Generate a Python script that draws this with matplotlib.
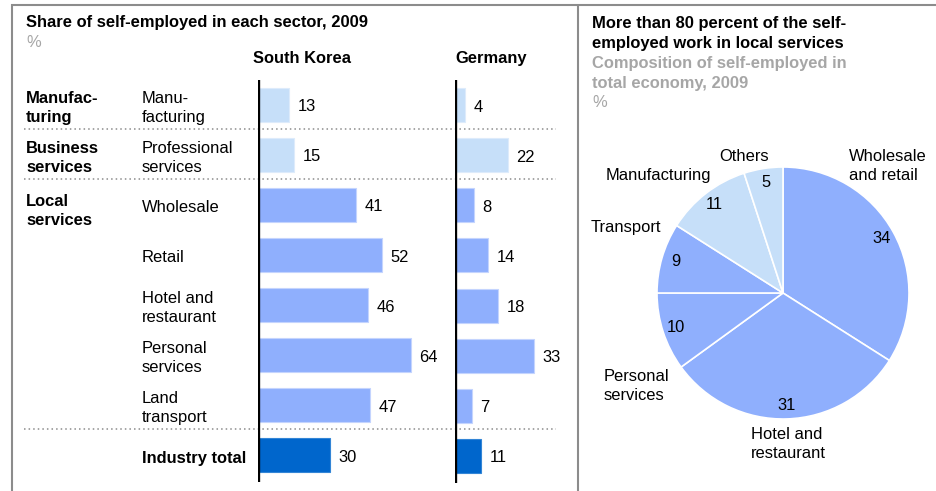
import matplotlib
matplotlib.use("Agg")
import matplotlib.pyplot as plt
import matplotlib.transforms as mtransforms

plt.rcParams['font.family'] = ['Liberation Sans', 'DejaVu Sans']

# bar chart data
sectors = ["Manu-\nfacturing", "Professional\nservices", "Wholesale", "Retail",
           "Hotel and\nrestaurant", "Personal\nservices", "Land\ntransport", "Industry total"]
korea = [13, 15, 41, 52, 46, 64, 47, 30]
germany = [4, 22, 8, 14, 18, 33, 7, 11]
shade = ["light", "light", "mid", "mid", "mid", "mid", "mid", "dark"]
groups = ["Manufac-\nturing", "Business\nservices", "Local\nservices"]
group_rows = [0, 1, 2]
separator_after = [0, 1, 6]

# pie chart data
pie_labels = ["Wholesale\nand retail", "Hotel and\nrestaurant", "Personal\nservices",
              "Transport", "Manufacturing", "Others"]
pie_values = [34, 31, 10, 9, 11, 5]
pie_shade = ["mid", "mid", "mid", "mid", "light", "light"]

colors = {"light": "#C6DFF9", "mid": "#8FAFFD", "dark": "#0066CC"}
edges = {"light": "#DDEBFB", "mid": "#C4D4FE", "dark": "#3385D6"}
GRAY = "#8C8C8C"
SUB = "#A6A6A6"
FS = 11.9
LS = 1.3
NUDGE = 0.06  # text sits a little below the bar centre

W, H = 936, 491
fig = plt.figure(figsize=(W / 100, H / 100), dpi=100)

# overlay in pixel coordinates for frame and text
base = fig.add_axes([0, 0, 1, 1])
base.set_xlim(0, W)
base.set_ylim(H, 0)
base.axis("off")


def px_axes(left, top, right, bottom):
    return fig.add_axes([left / W, 1 - bottom / H, (right - left) / W, (bottom - top) / H])


# frame
base.plot([11.5, 11.5], [4, H], color=GRAY, lw=1.5, solid_capstyle="butt")
base.plot([11, W], [4.5, 4.5], color=GRAY, lw=1.5, solid_capstyle="butt")
base.plot([577.5, 577.5], [4, H], color=GRAY, lw=1.5, solid_capstyle="butt")

# left panel titles
base.text(26, 27, "Share of self-employed in each sector, 2009", fontsize=FS,
          fontweight="bold", va="baseline")
base.text(26, 47, "%", fontsize=FS, color=SUB, va="baseline")
base.text(302, 63, "South Korea", fontsize=FS, fontweight="bold", ha="center", va="baseline")
base.text(491, 63, "Germany", fontsize=FS, fontweight="bold", ha="center", va="baseline")

# bar axes, one per country
ax_kr = px_axes(258, 80, 452, 482)
ax_de = px_axes(455, 80, 570, 483)
scale = 2.39  # pixels per percentage point
for ax, vals in [(ax_kr, korea), (ax_de, germany)]:
    rows = list(range(len(vals)))
    ax.barh(rows, vals, height=0.68, color=[colors[s] for s in shade],
            edgecolor=[edges[s] for s in shade], linewidth=0.8, zorder=2)
    for r, v in zip(rows, vals):
        ax.text(v + 3.6, r + 0.04, str(v), fontsize=FS, va="center", ha="left")
    ax.set_xlim(0, ax.get_position().width * W / scale)
    ax.set_ylim(7.54, -0.5)
    ax.axvline(0, color="black", lw=2.4, zorder=3)
    ax.axis("off")
    ax.patch.set_alpha(0)

# row labels: x in pixels, y in bar rows
rows_tf = mtransforms.blended_transform_factory(base.transData, ax_kr.transData)
for r, name in enumerate(sectors):
    bold = "bold" if name == "Industry total" else "normal"
    base.text(142, r + NUDGE, name, fontsize=FS, fontweight=bold, ha="left", va="center",
              linespacing=LS, transform=rows_tf)
for g, r in zip(groups, group_rows):
    if r == 2:
        base.text(26, r - 0.22, g, fontsize=FS, fontweight="bold", ha="left", va="top",
                  linespacing=LS, transform=rows_tf)
    else:
        base.text(26, r + NUDGE, g, fontsize=FS, fontweight="bold", ha="left", va="center",
                  linespacing=LS, transform=rows_tf)
for r in separator_after:
    base.plot([24, 556], [r + 0.48, r + 0.48], color=GRAY, lw=1.1,
              ls=(0, (1, 2)), transform=rows_tf)

# right panel titles, one line each
title_lines = [("More than 80 percent of the self-", "black"),
               ("employed work in local services", "black"),
               ("Composition of self-employed in", SUB),
               ("total economy, 2009", SUB)]
for i, (line, col) in enumerate(title_lines):
    base.text(592, 28 + 20 * i, line, fontsize=FS, fontweight="bold", color=col,
              va="baseline")
base.text(592, 107, "%", fontsize=FS, color=SUB, va="baseline")

# pie
cx, cy, rad = 783, 293, 126
ax_pie = px_axes(cx - rad, cy - rad, cx + rad, cy + rad)
ax_pie.pie(pie_values, startangle=90, counterclock=False,
           colors=[colors[s] for s in pie_shade],
           wedgeprops=dict(edgecolor="white", linewidth=1.2),
           autopct=lambda p: "%d" % round(p), pctdistance=0.89,
           textprops=dict(fontsize=FS))
ax_pie.set_xlim(-1, 1)
ax_pie.set_ylim(-1, 1)
ax_pie.set_aspect("equal")

# outer labels, anchored at the baseline of their last line
label_pos = [(0.524, 0.897), (-0.254, -1.310), (-1.421, -0.849),
             (-1.524, 0.484), (-1.405, 0.897), (-0.508, 1.048)]
for name, (lx, ly) in zip(pie_labels, label_pos):
    ax_pie.text(lx, ly, name, fontsize=FS, ha="left", va="baseline", linespacing=LS)

fig.savefig("out.png", dpi=100)
